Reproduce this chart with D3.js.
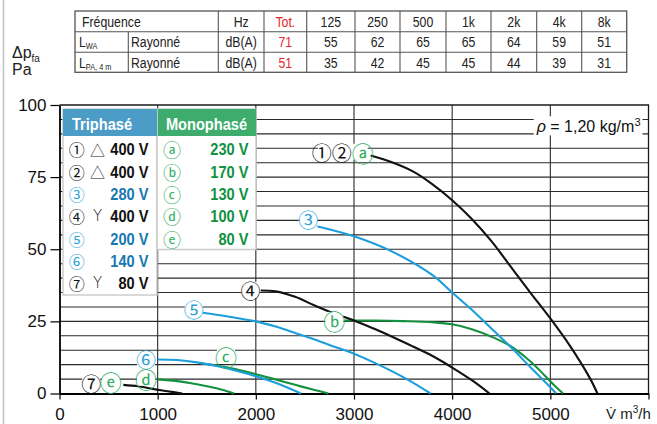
<!DOCTYPE html>
<html><head><meta charset="utf-8">
<script src="https://cdn.jsdelivr.net/npm/d3@7"></script>
<style>
html,body{margin:0;padding:0;background:#fff;}
svg{display:block;}
</style></head>
<body>
<svg id="chart" width="657" height="424"></svg>
<script>
// ---------- DATA ----------
const bandLabels = ["125","250","500","1k","2k","4k","8k"];
const lwaValues  = [55,62,65,65,64,59,51];
const lpaValues  = [35,42,45,45,44,39,31];
const totalValues = [71,51];

const xTicks = [0,1000,2000,3000,4000,5000,6000];
const yTicks = [0,25,50,75,100];

// fan curves: [flow m3/h, pressure Pa]
const curve12a = [[3170,82.5],[3400,80],[3600,77],[3800,72.5],[4000,67],[4200,60.5],[4400,52.8],[4600,43.8],[4800,34.8],[5000,26],[5200,16.5],[5400,5.5],[5480,0]];
const curve3   = [[2620,58],[3000,54.5],[3400,49],[3800,41],[4000,35],[4200,29],[4400,22.5],[4600,16],[4800,9],[5000,2.2],[5060,0]];
const curve4   = [[2050,35.7],[2200,35.4],[2400,33.5],[2600,30.5],[2800,27.7],[3000,25.3],[3200,22.5],[3400,19.5],[3600,16.3],[3800,13],[4000,9],[4200,4.6],[4380,0]];
const curve5   = [[1460,28],[1700,26.8],[2000,25],[2200,23.2],[2400,21],[2600,18.7],[2800,16.2],[3000,13.8],[3200,10.8],[3400,7.5],[3600,3.8],[3780,0]];
const curve6   = [[1000,11.8],[1200,11.6],[1400,10.8],[1600,9.5],[1800,7.9],[2000,6],[2200,3.7],[2460,0]];
const curve7   = [[650,3],[800,2.5],[950,1.6],[1100,0.8],[1250,0]];
const curveB   = [[2900,25.3],[3200,25.3],[3500,25.1],[3800,24.7],[4000,24],[4200,22.3],[4400,19.7],[4600,16.3],[4800,11],[4950,6],[5050,2.5],[5130,0]];
const curveC   = [[1450,10.4],[1600,9.7],[1800,8.4],[2000,6.7],[2200,4.9],[2400,3],[2600,1.2],[2740,0]];
const curveD   = [[1000,4.9],[1200,4.3],[1400,3.2],[1600,1.8],[1780,0]];

const triSymbols  = ["①","②","③","④","⑤","⑥","⑦"];
const triConn     = ["△","△","","Y","","","Y"];
const triVoltages = ["400 V","400 V","280 V","400 V","200 V","140 V","80 V"];
const triIsBlue   = [false,false,true,false,true,true,false];
const monoSymbols  = ["ⓐ","ⓑ","ⓒ","ⓓ","ⓔ"];
const monoVoltages = ["230 V","170 V","130 V","100 V","80 V"];

// ---------- STYLE ----------
const BLACK="#111", BLUE="#1c9edc", GREEN="#14913f";
const BLUE_TXT="#1779b2", GREEN_TXT="#10913f";
const BLUE_SYM="#2aa3dc", GREEN_SYM="#2fae5f";
const RED="#e2262c";
const FONT="'Liberation Sans', Arial, Helvetica, sans-serif";
const CIRC="'Noto Sans CJK JP','DejaVu Sans',sans-serif";
const isLetter = s => /[ⓐ-ⓩ]/.test(s);

const svg = d3.select("#chart");

// page border at left
svg.append("line").attr("x1",3.5).attr("x2",3.5).attr("y1",0).attr("y2",424)
  .attr("stroke","#c4c4c4").attr("stroke-width",1.6);

const x = d3.scaleLinear().domain([0,6000]).range([59.5,648.5]);
const y = d3.scaleLinear().domain([0,100]).range([393.5,105]);

// ---------- GRID ----------
const grid = svg.append("g");
grid.selectAll("line.h").data(d3.range(5,100,5)).join("line")
  .attr("x1",x(0)).attr("x2",x(6000)).attr("y1",d=>y(d)).attr("y2",d=>y(d))
  .attr("stroke","#2a2a2a").attr("stroke-width",1.1);
grid.selectAll("line.v").data([1000,2000,3000,4000,5000]).join("line")
  .attr("x1",d=>x(d)).attr("x2",d=>x(d)).attr("y1",y(0)).attr("y2",y(100))
  .attr("stroke","#2a2a2a").attr("stroke-width",1.1);
grid.append("path").attr("d",`M${x(0)},${y(100)}H${x(6000)}V${y(0)}`)
  .attr("fill","none").attr("stroke","#1a1a1a").attr("stroke-width",1.3);

// ---------- AXES ----------
const yAxis = svg.append("g").attr("transform",`translate(${x(0)},0)`)
  .call(d3.axisLeft(y).tickValues(yTicks).tickSize(9).tickPadding(4).tickSizeOuter(0));
const xAxis = svg.append("g").attr("transform",`translate(0,${y(0)})`)
  .call(d3.axisBottom(x).tickValues(xTicks).tickSize(6).tickPadding(8).tickSizeOuter(0)
    .tickFormat(d=> d===6000 ? "" : String(d)));
[yAxis,xAxis].forEach(a=>{
  a.select(".domain").attr("stroke","#000").attr("stroke-width",1.8);
  a.selectAll(".tick line").attr("stroke","#000").attr("stroke-width",1.2);
  a.selectAll("text").attr("font-family",FONT).attr("font-size",17).attr("fill","#111");
});

// ---------- CURVES ----------
const line = d3.line().x(d=>x(d[0])).y(d=>y(d[1])).curve(d3.curveCatmullRom.alpha(0.5));
const curves = [
  [curveB,GREEN],[curveC,GREEN],[curveD,GREEN],
  [curve12a,BLACK],[curve3,BLUE],[curve4,BLACK],[curve5,BLUE],[curve6,BLUE],[curve7,BLACK]
];
svg.append("g").selectAll("path").data(curves).join("path")
  .attr("d",d=>line(d[0])).attr("fill","none")
  .attr("stroke",d=>d[1]).attr("stroke-width",2.1).attr("stroke-linecap","butt");

// ---------- CURVE LABELS ----------
const curveLabels = [
  {at:[2886,83.8], parts:[["①",BLACK],["②",BLACK],["ⓐ",GREEN_SYM]]},
  {at:[2535,60.4], parts:[["③",BLUE_SYM]]},
  {at:[1946,35.9], parts:[["④",BLACK]]},
  {at:[1368,29.2], parts:[["⑤",BLUE_SYM]]},
  {at:[881,11.9],  parts:[["⑥",BLUE_SYM]]},
  {at:[1696,13.0], parts:[["ⓒ",GREEN_SYM]]},
  {at:[881,5.5],   parts:[["ⓓ",GREEN_SYM]]},
  {at:[323,3.7],   parts:[["⑦",BLACK]]},
  {at:[523,4.3],   parts:[["ⓔ",GREEN_SYM]]},
  {at:[2799,25.5], parts:[["ⓑ",GREEN_SYM]]}
];
const lg = svg.append("g");
curveLabels.forEach(l=>{
  const cx=x(l.at[0]), cy=y(l.at[1]), w=l.parts.length*16;
  lg.append("rect").attr("x",cx-w/2-1).attr("y",cy-8).attr("width",w+2).attr("height",16).attr("fill","#fff");
  const t = lg.append("text").attr("x",cx).attr("y",cy).attr("text-anchor","middle")
    .attr("dominant-baseline","central").attr("font-family",CIRC).attr("font-size",20);
  l.parts.forEach(p=>t.append("tspan").attr("fill",p[1])
    .attr("font-size", isLetter(p[0]) ? 22 : 20).text(p[0]));
});

// density note
{
  const g = svg.append("g");
  const tx = x(6000)-8, ty = y(90)-1.5;
  const bg = g.append("rect").attr("fill","#fff");
  const t = g.append("text").attr("x",tx).attr("y",ty).attr("text-anchor","end")
    .attr("font-family",FONT).attr("font-size",16).attr("fill","#111");
  t.append("tspan").attr("font-style","italic").text("ρ");
  t.append("tspan").text(" = 1,20 kg/m");
  t.append("tspan").attr("font-size",11).attr("dy",-6).text("3");
  const bb = t.node().getBBox();
  bg.attr("x",bb.x-2).attr("y",bb.y).attr("width",bb.width+4).attr("height",ty+3-bb.y);
}

// axis unit labels
{
  const t = svg.append("text").attr("x",606).attr("y",419).attr("font-family",FONT)
    .attr("font-size",15).attr("fill","#222");
  t.append("tspan").text("V\u0307 m");
  t.append("tspan").attr("font-size",10).attr("dy",-6).text("3");
  t.append("tspan").attr("dy",6).text("/h");
}
{
  const t = svg.append("text").attr("x",12).attr("y",58).attr("font-family",FONT)
    .attr("font-size",16).attr("fill","#222");
  t.append("tspan").text("Δp");
  t.append("tspan").attr("font-size",10).attr("dy",4).text("fa");
  svg.append("text").attr("x",12).attr("y",75).attr("font-family",FONT)
    .attr("font-size",16).attr("fill","#222").text("Pa");
}

// ---------- LEGEND ----------
function ctext(g, tx, ty, str, o){
  return g.append("text").attr("transform",`translate(${tx},${ty}) scale(${o.sx||0.84},1)`)
    .attr("text-anchor",o.anchor||"start").attr("font-family",o.family||FONT)
    .attr("font-size",o.size||17).attr("font-weight",o.weight||"normal")
    .attr("fill",o.fill||"#111").text(str);
}
const leg = svg.append("g");
const triX=63, triW=94, monoX=157, monoW=99, legTop=109, headH=27, rowH=22.35;
leg.append("rect").attr("x",triX).attr("y",legTop).attr("width",triW).attr("height",186)
  .attr("fill","#fff").attr("stroke","#c9c9c9").attr("stroke-width",1.4);
leg.append("rect").attr("x",monoX).attr("y",legTop).attr("width",monoW).attr("height",140.5)
  .attr("fill","#fff").attr("stroke","#c9c9c9").attr("stroke-width",1.4);
leg.append("rect").attr("x",triX).attr("y",legTop).attr("width",triW).attr("height",headH).attr("fill","#4b9cc6");
leg.append("rect").attr("x",monoX+0.8).attr("y",legTop).attr("width",monoW-0.8).attr("height",headH).attr("fill","#3dac6c");
ctext(leg, 72, 129.5, "Triphasé", {weight:"bold", fill:"#fff", sx:0.86});
ctext(leg, monoX+monoW/2, 129.5, "Monophasé", {weight:"bold", fill:"#fff", sx:0.86, anchor:"middle"});

triSymbols.forEach((s,i)=>{
  const cy = 149.3 + i*rowH;
  leg.append("text").attr("x",76.7).attr("y",cy).attr("text-anchor","middle").attr("dominant-baseline","central")
    .attr("font-family",CIRC).attr("font-size",16).attr("fill",triIsBlue[i]?BLUE_SYM:"#111").text(s);
  if (triConn[i]) {
    leg.append("text").attr("x",97.5).attr("y",cy).attr("text-anchor","middle").attr("dominant-baseline","central")
      .attr("font-family", triConn[i]==="Y" ? "'DejaVu Sans', sans-serif" : CIRC).attr("font-weight","200")
      .attr("font-size",15).attr("fill","#111").text(triConn[i]);
  }
  ctext(leg, 148.5, cy+6, triVoltages[i], {weight:"bold", anchor:"end", sx:0.86, fill:triIsBlue[i]?BLUE_TXT:"#111"});
});
monoSymbols.forEach((s,i)=>{
  const cy = 149.3 + i*rowH;
  leg.append("text").attr("x",172).attr("y",cy).attr("text-anchor","middle").attr("dominant-baseline","central")
    .attr("font-family",CIRC).attr("font-size",18).attr("fill",GREEN_SYM).text(s);
  ctext(leg, 248.5, cy+6, monoVoltages[i], {weight:"bold", anchor:"end", sx:0.86, fill:GREEN_TXT});
});

// ---------- TABLE ----------
const tab = svg.append("g");
const colX = [75,128.3,218.3,264,306.7,355,400,446,491,536.7,581.7,626.7];
const rowY = [11,31.7,52.3,72.3];
const TL="#555";
tab.append("rect").attr("x",colX[0]).attr("y",rowY[0]).attr("width",colX[11]-colX[0]).attr("height",rowY[3]-rowY[0])
  .attr("fill","none").attr("stroke",TL).attr("stroke-width",1.3);
[rowY[1],rowY[2]].forEach(yy=>tab.append("line").attr("x1",colX[0]).attr("x2",colX[11]).attr("y1",yy).attr("y2",yy).attr("stroke",TL).attr("stroke-width",1.1));
colX.slice(2,11).forEach(xx=>tab.append("line").attr("x1",xx).attr("x2",xx).attr("y1",rowY[0]).attr("y2",rowY[3]).attr("stroke",TL).attr("stroke-width",1.1));
tab.append("line").attr("x1",colX[1]).attr("x2",colX[1]).attr("y1",rowY[1]).attr("y2",rowY[3]).attr("stroke",TL).attr("stroke-width",1.1);

const TS=15, tsx=0.82;
const base = r => (rowY[r]+rowY[r+1])/2 + 5.4;
const mid = c => (colX[c]+colX[c+1])/2;
ctext(tab, 82, base(0), "Fréquence", {size:TS, sx:tsx, fill:"#222"});
ctext(tab, mid(2), base(0), "Hz", {size:TS, sx:tsx, anchor:"middle", fill:"#222"});
ctext(tab, mid(3), base(0), "Tot.", {size:TS, sx:tsx, anchor:"middle", fill:RED});
bandLabels.forEach((b,i)=>ctext(tab, mid(4+i), base(0), b, {size:TS, sx:tsx, anchor:"middle", fill:"#222"}));

[[lwaValues,"WA"],[lpaValues,"PA, 4 m"]].forEach((row,r)=>{
  const by = base(r+1);
  const t = ctext(tab, 79, by, "L", {size:TS, sx:tsx, fill:"#222"});
  t.append("tspan").attr("font-size",9).attr("dy",2).text(row[1]);
  ctext(tab, 131, by, "Rayonné", {size:TS, sx:tsx, fill:"#222"});
  ctext(tab, mid(2), by, "dB(A)", {size:TS, sx:tsx, anchor:"middle", fill:"#222"});
  ctext(tab, mid(3), by, String(totalValues[r]), {size:TS, sx:tsx, anchor:"middle", fill:RED});
  row[0].forEach((v,i)=>ctext(tab, mid(4+i), by, String(v), {size:TS, sx:tsx, anchor:"middle", fill:"#222"}));
});
</script>
</body></html>
